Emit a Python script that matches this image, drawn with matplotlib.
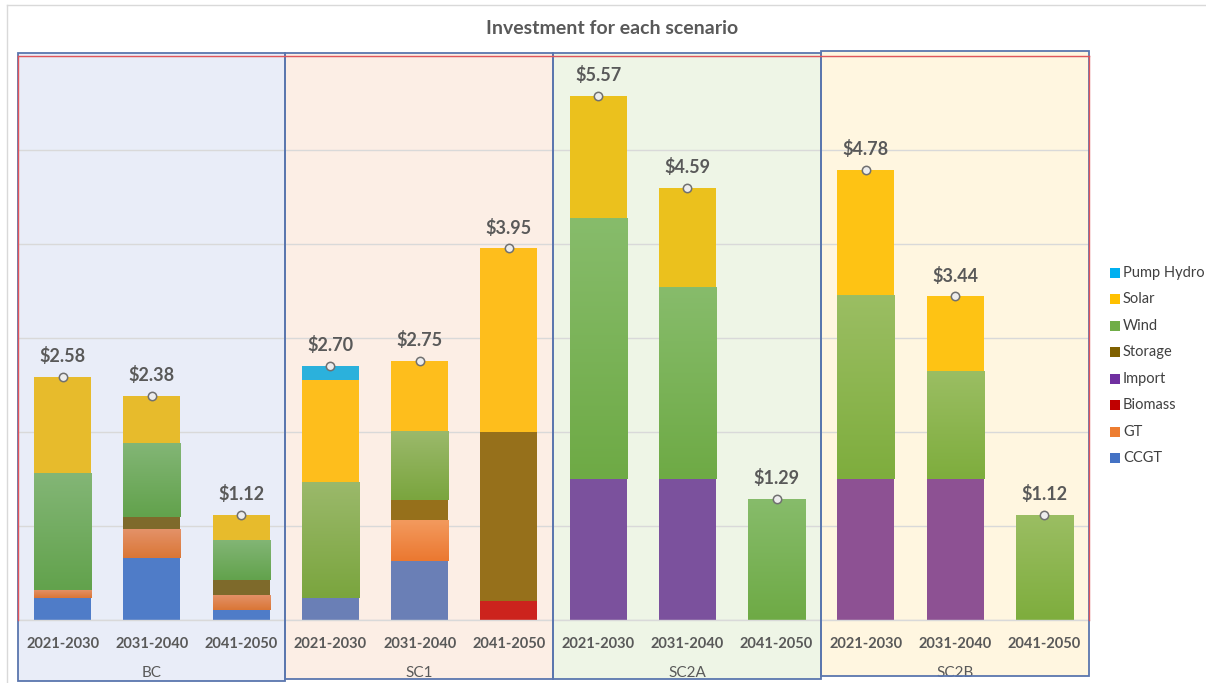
import numpy as np
import matplotlib
matplotlib.use("Agg")
import matplotlib.pyplot as plt
from matplotlib.patches import Rectangle
from matplotlib.lines import Line2D
from matplotlib.colors import LinearSegmentedColormap
from matplotlib.transforms import blended_transform_factory

plt.rcParams["font.family"] = ["Lato", "DejaVu Sans"]

# ---- data (billions of $) ----
scenarios = ["BC", "SC1", "SC2A", "SC2B"]
periods = ["2021-2030", "2031-2040", "2041-2050"]
techs = ["CCGT", "GT", "Biomass", "Import", "Storage", "Wind", "Solar", "Pump Hydro"]

ccgt    = [0.23, 0.66, 0.11, 0.23, 0.63, 0.00, 0.00, 0.00, 0.00, 0.00, 0.00, 0.00]
gt      = [0.09, 0.31, 0.16, 0.00, 0.43, 0.00, 0.00, 0.00, 0.00, 0.00, 0.00, 0.00]
biomass = [0.00, 0.00, 0.00, 0.00, 0.00, 0.20, 0.00, 0.00, 0.00, 0.00, 0.00, 0.00]
imports = [0.00, 0.00, 0.00, 0.00, 0.00, 0.00, 1.50, 1.50, 0.00, 1.50, 1.50, 0.00]
storage = [0.00, 0.12, 0.15, 0.00, 0.22, 1.80, 0.00, 0.00, 0.00, 0.00, 0.00, 0.00]
wind    = [1.24, 0.79, 0.43, 1.24, 0.73, 0.00, 2.77, 2.04, 1.29, 1.95, 1.15, 1.12]
solar   = [1.02, 0.50, 0.27, 1.08, 0.74, 1.95, 1.30, 1.05, 0.00, 1.33, 0.79, 0.00]
pump    = [0.00, 0.00, 0.00, 0.15, 0.00, 0.00, 0.00, 0.00, 0.00, 0.00, 0.00, 0.00]

series = dict(zip(techs, [ccgt, gt, biomass, imports, storage, wind, solar, pump]))

# ---- styles ----
legend_colors = {
    "Pump Hydro": "#00B0F0", "Solar": "#FFC000", "Wind": "#70AD47",
    "Storage": "#7F6000", "Import": "#7030A0", "Biomass": "#C00000",
    "GT": "#ED7D31", "CCGT": "#4472C4",
}

def solid(c):
    return (c, c)

bar_colors = {
    "BC": {"CCGT": solid("#4F7CC8"), "GT": ("#E4936A", "#DA7636"),
           "Storage": solid("#7E6A2B"), "Wind": ("#83B676", "#62A24C"),
           "Solar": solid("#E7BB2C")},
    "SC1": {"CCGT": solid("#6A7FB6"), "GT": ("#F39A5E", "#EB7830"),
            "Biomass": solid("#CC231D"), "Storage": solid("#96701B"),
            "Wind": ("#9BB96B", "#7AA53E"), "Solar": solid("#FEBE1C"),
            "Pump Hydro": solid("#2BB1DC")},
    "SC2A": {"Import": solid("#7B519D"), "Wind": ("#87BC6B", "#6EAA45"),
             "Solar": solid("#EBC11D")},
    "SC2B": {"Import": solid("#8D5193"), "Wind": ("#9BBE63", "#7EAD3D"),
             "Solar": solid("#FEC314")},
}
panel_fill = ["#E9EDF8", "#FCEEE5", "#EEF5E6", "#FFF6E0"]
panel_edge = "#5A76AE"
text_gray = "#595959"

W_PX, H_PX = 1206, 683


def fy(py):
    """pixel row (from top) -> figure fraction"""
    return 1 - py / H_PX


fig = plt.figure(figsize=(W_PX / 100, H_PX / 100), dpi=100)
fig.patch.set_facecolor("white")

ax_left, ax_right, ax_top, ax_bottom = 18, 1089, 55.5, 620
ax = fig.add_axes([ax_left / W_PX, fy(ax_bottom),
                   (ax_right - ax_left) / W_PX, (ax_bottom - ax_top) / H_PX])
ax.patch.set_visible(False)
ax.set_xlim(0, 12)
ax.set_ylim(0, 6)

# chart frame
fig.add_artist(Line2D([7 / W_PX, 7 / W_PX], [0, fy(5)], color="#D9D9D9", lw=1))
fig.add_artist(Line2D([7 / W_PX, 1], [fy(5), fy(5)], color="#D9D9D9", lw=1))

blend = blended_transform_factory(ax.transData, fig.transFigure)

# scenario panels
panel_y = [(53, 681), (53, 679), (53, 679), (51, 676)]
for g, (y0, y1) in enumerate(panel_y):
    ax.add_patch(Rectangle((3 * g, fy(y1)), 3, (y1 - y0) / H_PX, transform=blend,
                           facecolor=panel_fill[g], edgecolor="none",
                           zorder=0, clip_on=False))
    ax.add_patch(Rectangle((3 * g - 0.004, fy(y1)), 3, (y1 - y0) / H_PX, transform=blend,
                           facecolor="none", edgecolor=panel_edge, lw=1.3,
                           zorder=4.5, clip_on=False))

# grid
ax.set_yticks(np.arange(0, 7))
ax.yaxis.grid(True, color="#D9D9D9", lw=1)
ax.set_axisbelow(True)
ax.tick_params(axis="y", length=0, labelleft=False)
for side in ["left", "top", "right"]:
    ax.spines[side].set_color("#E0555A")
    ax.spines[side].set_linewidth(1)
    ax.spines[side].set_zorder(5)
ax.spines["bottom"].set_color("#D9D9D9")
ax.spines["bottom"].set_linewidth(1)

# stacked bars
WIDTH = 0.64
centers = np.arange(12) + 0.5
totals = np.zeros(12)
for i, x in enumerate(centers):
    scen = scenarios[i // 3]
    base = 0.0
    for t in techs:
        h = series[t][i]
        if h <= 0:
            continue
        top_c, bot_c = bar_colors[scen][t]
        rect = ax.bar(x, h, bottom=base, width=WIDTH, color=bot_c,
                      linewidth=0, zorder=2)[0]
        if top_c != bot_c:
            cmap = LinearSegmentedColormap.from_list("seg", [bot_c, top_c])
            grad = np.linspace(0, 1, 128).reshape(-1, 1)
            im = ax.imshow(grad, cmap=cmap, origin="lower", aspect="auto",
                           extent=(x - WIDTH / 2, x + WIDTH / 2, base, base + h),
                           interpolation="bilinear", zorder=2.1)
            im.set_clip_path(rect)
        base += h
    totals[i] = base

ax.set_xlim(0, 12)
ax.set_ylim(0, 6)
ax.set_aspect("auto")

# total markers and labels
for x, tot in zip(centers, totals):
    ax.plot(x, tot, "o", ms=6, mfc="#EDEDED", mec="#707070", mew=1.1, zorder=4)
    ax.annotate(f"${tot:.2f}", (x, tot), xytext=(0, 15), textcoords="offset points",
                ha="center", va="center", fontsize=13, fontweight="bold",
                color=text_gray, zorder=5)

# category axis
ax.set_xticks(centers)
ax.set_xticklabels(periods * 4)
ax.tick_params(axis="x", length=0, pad=12, labelsize=10.5, labelcolor=text_gray)
for lbl in ax.get_xticklabels():
    lbl.set_fontweight("bold")
for g, s in enumerate(scenarios):
    ax.text(3 * g + 1.5, fy(673), s, transform=blend, ha="center", va="center",
            fontsize=11, color=text_gray, clip_on=False)

# title
fig.text(612 / W_PX, fy(28), "Investment for each scenario", ha="center",
         va="center", fontsize=14, fontweight="bold", color=text_gray)

# legend
legend_order = techs[::-1]
for k, name in enumerate(legend_order):
    yc = 272.7 + 26.5 * k
    fig.add_artist(Rectangle((1109.5 / W_PX, fy(yc + 5)), 10 / W_PX, 10 / H_PX,
                             transform=fig.transFigure,
                             facecolor=legend_colors[name], edgecolor="none"))
    fig.text(1123 / W_PX, fy(yc), name, ha="left", va="center",
             fontsize=10.5, color="#404040")

fig.savefig("out.png", dpi=100)
